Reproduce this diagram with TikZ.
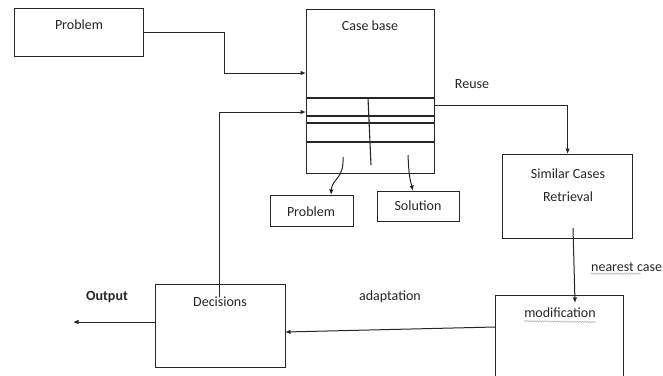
\documentclass[tikz,border=0pt]{standalone}
\usepackage{fontspec}
\setmainfont{Carlito}
\usetikzlibrary{arrows.meta,decorations.pathmorphing}
\tikzset{
  box/.style={draw, line width=1.2pt, inner sep=0pt, anchor=north west, black!85},
  txt/.style={font=\fontsize{14}{23}\selectfont, inner sep=0pt, text=black!85},
  link/.style={line width=1pt, black!85, -{Latex[length=5.5pt,width=4.5pt]}},
  squiggle/.style={gray!60, line width=0.5pt, decorate,
    decoration={snake, amplitude=0.7pt, segment length=2.5pt}},
}
\begin{document}
\begin{tikzpicture}[x=1pt,y=-1pt]
\useasboundingbox (0,0) rectangle (663,375);
\clip (0,0) rectangle (663,375);
% boxes
\node[box, minimum width=129pt, minimum height=48pt]  (prob) at (14,8)   {};
\node[box, minimum width=128pt, minimum height=164pt] (cb)   at (306,9)  {};
\node[box, minimum width=83pt,  minimum height=31pt]  (cbprob) at (270,195) {};
\node[box, minimum width=82pt,  minimum height=30pt]  (cbsol)  at (377,191) {};
\node[box, minimum width=130pt, minimum height=84pt]  (sim)  at (502,154) {};
\node[box, minimum width=128pt, minimum height=110pt] (mod)  at (495,295) {};
\node[box, minimum width=130pt, minimum height=83pt]  (dec)  at (155,284) {};
% table rows of the case base
\foreach \y in {98,116,123,142}
  \draw[line width=1.1pt, black!85] (cb.west |- 0,\y) -- (cb.east |- 0,\y);
\coordinate (coltop) at (368,98);
\coordinate (colbot) at (371,165);
\draw[line width=1.1pt, black!85] (coltop) -- (colbot);
% texts
\node[txt] (probtxt)   at (79,25)   {Problem};
\node[txt] (cbtxt)     at (370,26)  {Case base};
\node[txt] (cbprobtxt) at (311,212) {Problem};
\node[txt] (cbsoltxt)  at (418,206) {Solution};
\node[txt] (reuse)     at (472,84)  {Reuse};
\node[txt, align=center] (simtxt) at (568,185) {Similar Cases\\Retrieval};
\node[txt, anchor=west] (nearest) at (591,267) {nearest case};
\node[txt] (modtxt)    at (560,313) {modification};
\node[txt] (dectxt)    at (220,302) {Decisions};
\node[txt] (adapt)     at (390,297) {adaptation};
\node[txt, font=\fontsize{14}{16}\selectfont\bfseries] (output) at (107,297) {Output};
\draw[squiggle] (nearest.south west) ++(0,2) -- ++(50,0);
\draw[squiggle] (modtxt.south west) ++(0,3) -- (modtxt.south east |- 0,{322});
% connectors
\coordinate (bend1)  at (224,73);
\coordinate (dectop) at (219,297);
\coordinate (cbin)   at (306,112);
\coordinate (cbout)  at (434,105);
\coordinate (simbot) at (573,228);
\coordinate (modtop) at (575,303);
\coordinate (modout) at (495,327);
\coordinate (decin)  at (285,332);
\coordinate (decout) at (155,322);
\coordinate (outend) at (73,322);
\coordinate (rowprob) at (343,157);
\coordinate (rowsol)  at (408,155);
\draw[link] (prob.east) -| (bend1) -- (bend1 -| cb.west);
\draw[link] (dectop) |- (cbin);
\draw[link] (cbout) -| (sim.north);
\draw[link] (simbot) -- (modtop);
\draw[link] (modout) -- (decin);
\draw[link] (decout) -- (outend);
\draw[link] (rowprob) .. controls (344,180) and (332,178) .. (cbprob.north -| 331,0);
\draw[link] (rowsol) .. controls (409,175) .. (cbsol.north -| 413,0);
\end{tikzpicture}
\end{document}
